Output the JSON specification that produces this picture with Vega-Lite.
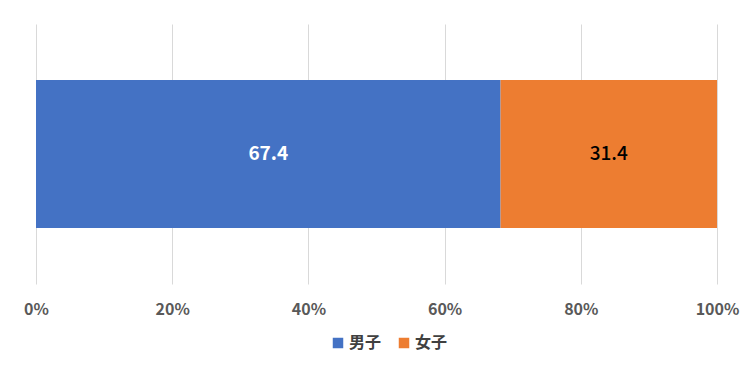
{
  "$schema": "https://vega.github.io/schema/vega-lite/v6.json",
  "width": 681,
  "height": 260,
  "padding": {"left": 36, "top": 24, "right": 33, "bottom": 81},
  "autosize": {"type": "none"},
  "background": "white",
  "config": {
    "view": {"stroke": null},
    "font": "Noto Sans CJK JP"
  },
  "data": {
    "values": [
      {"category": "全体", "sex": "男子", "value": 67.4},
      {"category": "全体", "sex": "女子", "value": 31.4}
    ]
  },
  "transform": [
    {"stack": "value", "groupby": ["category"], "offset": "normalize", "sort": [{"field": "sex", "order": "descending"}], "as": ["x0", "x1"]},
    {"calculate": "(datum.x0 + datum.x1) / 2", "as": "xm"}
  ],
  "layer": [
    {
      "mark": {"type": "bar", "size": 148},
      "encoding": {
        "x": {
          "field": "x0", "type": "quantitative",
          "scale": {"domain": [0, 1]},
          "axis": {
            "values": [0, 0.2, 0.4, 0.6, 0.8, 1],
            "format": ".0%",
            "title": null,
            "domain": false,
            "ticks": false,
            "grid": true,
            "gridColor": "#d9d9d9",
            "labelFontSize": 16,
            "labelFontWeight": "bold",
            "labelColor": "#595959",
            "labelPadding": 17,
            "labelFlush": false
          }
        },
        "x2": {"field": "x1"},
        "color": {
          "field": "sex", "type": "nominal",
          "scale": {"domain": ["男子", "女子"], "range": ["#4472C4", "#ED7D31"]},
          "legend": {
            "orient": "none",
            "legendX": 294,
            "legendY": 311,
            "direction": "horizontal",
            "title": null,
            "symbolType": "square",
            "symbolSize": 110,
            "symbolStrokeWidth": 0,
            "labelFontSize": 16,
            "labelColor": "#404040",
            "labelFontWeight": "bold",
            "columnPadding": 14,
            "symbolOffset": 0,
            "labelOffset": 3
          }
        }
      }
    },
    {
      "transform": [{"filter": "datum.sex === '男子'"}],
      "mark": {"type": "text", "fontSize": 19, "fontWeight": "bold", "color": "white"},
      "encoding": {
        "x": {"field": "xm", "type": "quantitative"},
        "text": {"field": "value", "type": "quantitative", "format": ".1f"}
      }
    },
    {
      "transform": [{"filter": "datum.sex === '女子'"}],
      "mark": {"type": "text", "fontSize": 19, "fontWeight": 500, "color": "black"},
      "encoding": {
        "x": {"field": "xm", "type": "quantitative"},
        "text": {"field": "value", "type": "quantitative", "format": ".1f"}
      }
    }
  ]
}
